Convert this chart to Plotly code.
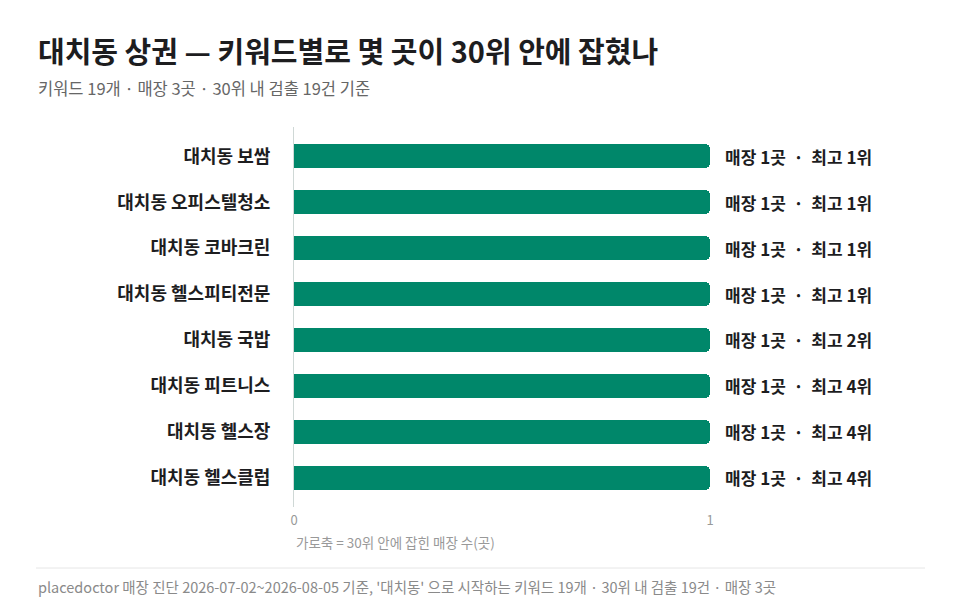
import plotly.graph_objects as go

keywords = ["대치동 보쌈", "대치동 오피스텔청소", "대치동 코바크린", "대치동 헬스피티전문",
            "대치동 국밥", "대치동 피트니스", "대치동 헬스장", "대치동 헬스클럽"]
store_counts = [1, 1, 1, 1, 1, 1, 1, 1]
best_ranks = [1, 1, 1, 1, 2, 4, 4, 4]

title = "대치동 상권 — 키워드별로 몇 곳이 30위 안에 잡혔나"
subtitle = "키워드 19개 · 매장 3곳 · 30위 내 검출 19건 기준"
x_title = "가로축 = 30위 안에 잡힌 매장 수(곳)"
footer = "placedoctor 매장 진단 2026-07-02~2026-08-05 기준, '대치동' 으로 시작하는 키워드 19개 · 30위 내 검출 19건 · 매장 3곳"

FONT = "Noto Sans CJK KR"
GREEN = "#00876a"

# plot area: x 294..710, y 127..507
L, R, T, B = 294, 250, 127, 108
PW, PH = 960 - L - R, 615 - T - B


def px(x):
    return (x - L) / PW


def py(y):
    return (615 - B - y) / PH


fig = go.Figure()
fig.add_trace(go.Bar(
    x=store_counts, y=keywords, orientation="h",
    marker=dict(color=GREEN, line=dict(width=0)),
    width=0.52, hoverinfo="skip", showlegend=False,
))

for k, n, r in zip(keywords, store_counts, best_ranks):
    fig.add_annotation(
        x=n, y=k, xref="x", yref="y", xanchor="left", xshift=13,
        text=f"매장 {n}곳  ·  최고 {r}위", showarrow=False,
        font=dict(family=FONT, size=17, color="#1d1d1f", weight=600),
    )

fig.add_annotation(xref="paper", yref="paper", x=px(36), y=py(50), xanchor="left", yanchor="middle",
                   text=title, showarrow=False,
                   font=dict(family=FONT, size=29, color="#1d1d1f", weight=600))
fig.add_annotation(xref="paper", yref="paper", x=px(36), y=py(88), xanchor="left", yanchor="middle",
                   text=subtitle, showarrow=False,
                   font=dict(family=FONT, size=16.5, color="#666666"))
fig.add_annotation(xref="paper", yref="paper", x=0, y=py(542), xanchor="left", yanchor="middle",
                   text=x_title, showarrow=False, font=dict(family=FONT, size=13.5, color="#999999"))
fig.add_annotation(xref="paper", yref="paper", x=px(36), y=py(586), xanchor="left", yanchor="middle",
                   text=footer, showarrow=False, font=dict(family=FONT, size=14.5, color="#8a8a8a"))

fig.add_shape(type="line", xref="paper", yref="paper", x0=px(36), x1=px(925), y0=py(568), y1=py(568),
              line=dict(color="#e6e6e6", width=1))

fig.update_layout(
    width=960, height=615,
    margin=dict(l=L, r=R, t=T, b=B),
    paper_bgcolor="white", plot_bgcolor="white",
    bargap=0,
    font=dict(family=FONT),
    xaxis=dict(range=[0, 1], tickvals=[0, 1], ticktext=["0", "1"], showgrid=True, gridcolor="#e8e8e8",
               zeroline=False, showline=False, tickfont=dict(size=13, color="#999999"),
               ticks="", ticklabelstandoff=4, fixedrange=True),
    yaxis=dict(categoryorder="array", categoryarray=keywords, autorange=False,
               range=[7.64, -0.64], showgrid=False, zeroline=False,
               showline=True, linecolor="#cfd8d6", linewidth=1,
               ticks="", ticklabelstandoff=19,
               tickfont=dict(family=FONT, size=18, color="#1d1d1f", weight=600)),
    barcornerradius=5,
)

fig.write_html("out.html", config={"displayModeBar": False},
               post_script="document.body.style.margin='0';")
